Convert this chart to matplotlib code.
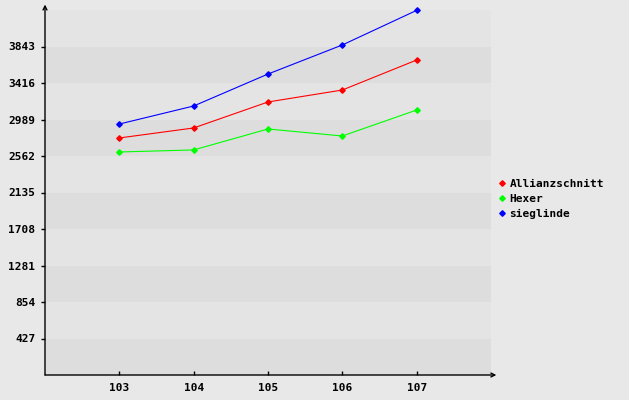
import matplotlib
matplotlib.use("Agg")
import matplotlib.pyplot as plt
from matplotlib.lines import Line2D

# Werte
runden = [103, 104, 105, 106, 107]
allianzschnitt = [2773, 2890, 3194, 3334, 3685]
hexer = [2609, 2633, 2878, 2796, 3100]
sieglinde = [2936, 3147, 3521, 3861, 4266]
y_ticks = [427, 854, 1281, 1708, 2135, 2562, 2989, 3416, 3843]

serien = [("Allianzschnitt", allianzschnitt, "#ff0000"),
          ("Hexer", hexer, "#00ff00"),
          ("sieglinde", sieglinde, "#0000ff")]

schrift = dict(family="DejaVu Sans Mono", weight="bold", size=8)

fig = plt.figure(figsize=(6.29, 4.0), dpi=100, facecolor="#e8e8e8")
ax = fig.add_axes([45/629, 25/400, 446/629, 365/400])
ax.set_facecolor("#e4e4e4")

step = 427
ax.set_xlim(102, 108)
ax.set_ylim(0, 10*step)

# abwechselnde Streifen
for k in range(10):
    if k % 2 == 0:
        ax.axhspan(k*step, (k+1)*step, color="#dddddd", lw=0, zorder=0)

for name, werte, farbe in serien:
    ax.plot(runden, werte, color=farbe, lw=0.8, marker="D", ms=2.8, zorder=3, clip_on=False)

for s in ax.spines.values():
    s.set_visible(False)

# Achsen mit Pfeilen
ax.annotate("", xy=(0, 1.015), xytext=(0, 0), xycoords="axes fraction",
            arrowprops=dict(arrowstyle="->", lw=1, color="black", shrinkA=0, shrinkB=0,
                            mutation_scale=7))
ax.annotate("", xy=(1.012, 0), xytext=(0, 0), xycoords="axes fraction",
            arrowprops=dict(arrowstyle="->", lw=1, color="black", shrinkA=0, shrinkB=0,
                            mutation_scale=7))

ax.set_xticks(runden)
ax.set_xticklabels([str(r) for r in runden], **schrift)
ax.set_yticks(y_ticks)
ax.set_yticklabels([str(v) for v in y_ticks], **schrift)
ax.tick_params(axis="y", length=3, width=1, pad=4)
ax.tick_params(axis="x", direction="in", length=3, width=1, pad=6)

handles = [Line2D([], [], color=f, marker="D", ms=2.8, lw=0) for _, _, f in serien]
fig.legend(handles, [n for n, _, _ in serien], loc="center left",
           bbox_to_anchor=(494/629, 1 - 199/400), frameon=False,
           prop=dict(family="DejaVu Sans Mono", weight="bold", size=8),
           handlelength=0.6, handletextpad=0.4, labelspacing=0.45, borderaxespad=0)

fig.savefig("out.png", dpi=100, facecolor=fig.get_facecolor())
